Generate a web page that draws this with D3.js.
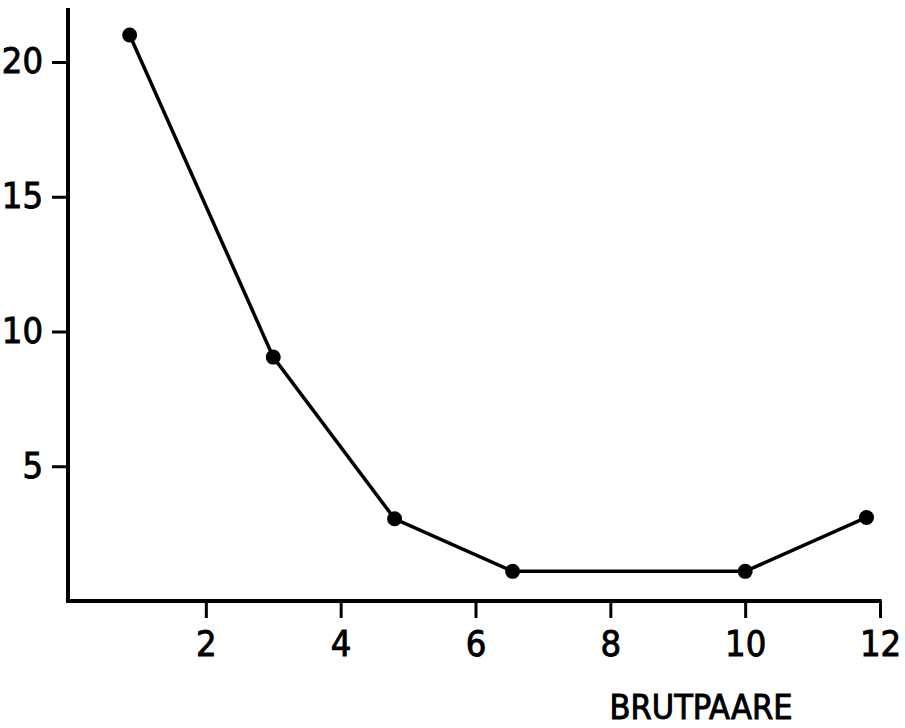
<!DOCTYPE html>
<html>
<head>
<meta charset="utf-8">
<script src="https://cdn.jsdelivr.net/npm/d3@7"></script>
<style>
body{margin:0;background:#fff;}
text{font-family:"DejaVu Sans Condensed","DejaVu Sans",sans-serif;fill:#000;stroke:#000;stroke-width:0.9px;}
</style>
</head>
<body>
<div id="chart"></div>
<script>
const w = 905;
const h = 728;

// data
const brutpaare = [0.87, 3.0, 4.8, 6.55, 10.0, 11.8];
const werte = [21.0, 9.05, 3.05, 1.1, 1.1, 3.1];
const xTicks = [2, 4, 6, 8, 10, 12];
const yTicks = [5, 10, 15, 20];
const xTitle = "BRUTPAARE";

const svg = d3.select("#chart")
.append('svg')
.attr('width', w)
.attr('height', h);

//Scales
const xScale = d3.scaleLinear().domain([0, 12]).range([71, 880]);
const yScale = d3.scaleLinear().domain([0, 20]).range([601, 62]);

//Axis lines
svg.append('line')
.attr('x1', 68).attr('x2', 68)
.attr('y1', 8).attr('y2', 603)
.attr('stroke', '#000').attr('stroke-width', 4);
svg.append('line')
.attr('x1', 66).attr('x2', 881.5)
.attr('y1', 601).attr('y2', 601)
.attr('stroke', '#000').attr('stroke-width', 4);

//x axis ticks + labels
const xAxis = d3.axisBottom(xScale)
.tickValues(xTicks)
.tickSize(17)
.tickPadding(12)
.tickFormat(d3.format('d'));
const gx = svg.append('g')
.attr('transform', 'translate(0,601)')
.call(xAxis);
gx.select('.domain').remove();
gx.selectAll('.tick line').attr('stroke', '#000').attr('stroke-width', 3);
gx.selectAll('.tick text').attr('font-size', 36).attr('font-family', null);

//y axis ticks + labels
const yAxis = d3.axisLeft(yScale)
.tickValues(yTicks)
.tickSize(16)
.tickPadding(9)
.tickFormat(d3.format('d'));
const gy = svg.append('g')
.attr('transform', 'translate(68,0)')
.call(yAxis);
gy.select('.domain').remove();
gy.selectAll('.tick line').attr('stroke', '#000').attr('stroke-width', 3);
gy.selectAll('.tick text').attr('font-size', 36).attr('font-family', null)
.attr('dy', '0.3em');

//Axis title
svg.append('text')
.attr('x', 701).attr('y', 719)
.attr('text-anchor', 'middle')
.attr('font-size', 34)
.text(xTitle);

//Line
const pts = brutpaare.map((x, i) => [x, werte[i]]);
const line = d3.line()
.x(d => xScale(d[0]))
.y(d => yScale(d[1]));
svg.append('path')
.datum(pts)
.attr('d', line)
.attr('fill', 'none')
.attr('stroke', '#000')
.attr('stroke-width', 3.5);

//Dots
svg.append('g')
.selectAll('circle')
.data(pts)
.enter()
.append('circle')
.attr('cx', d => xScale(d[0]))
.attr('cy', d => yScale(d[1]))
.attr('r', 7.5)
.attr('fill', '#000');
</script>
</body>
</html>
